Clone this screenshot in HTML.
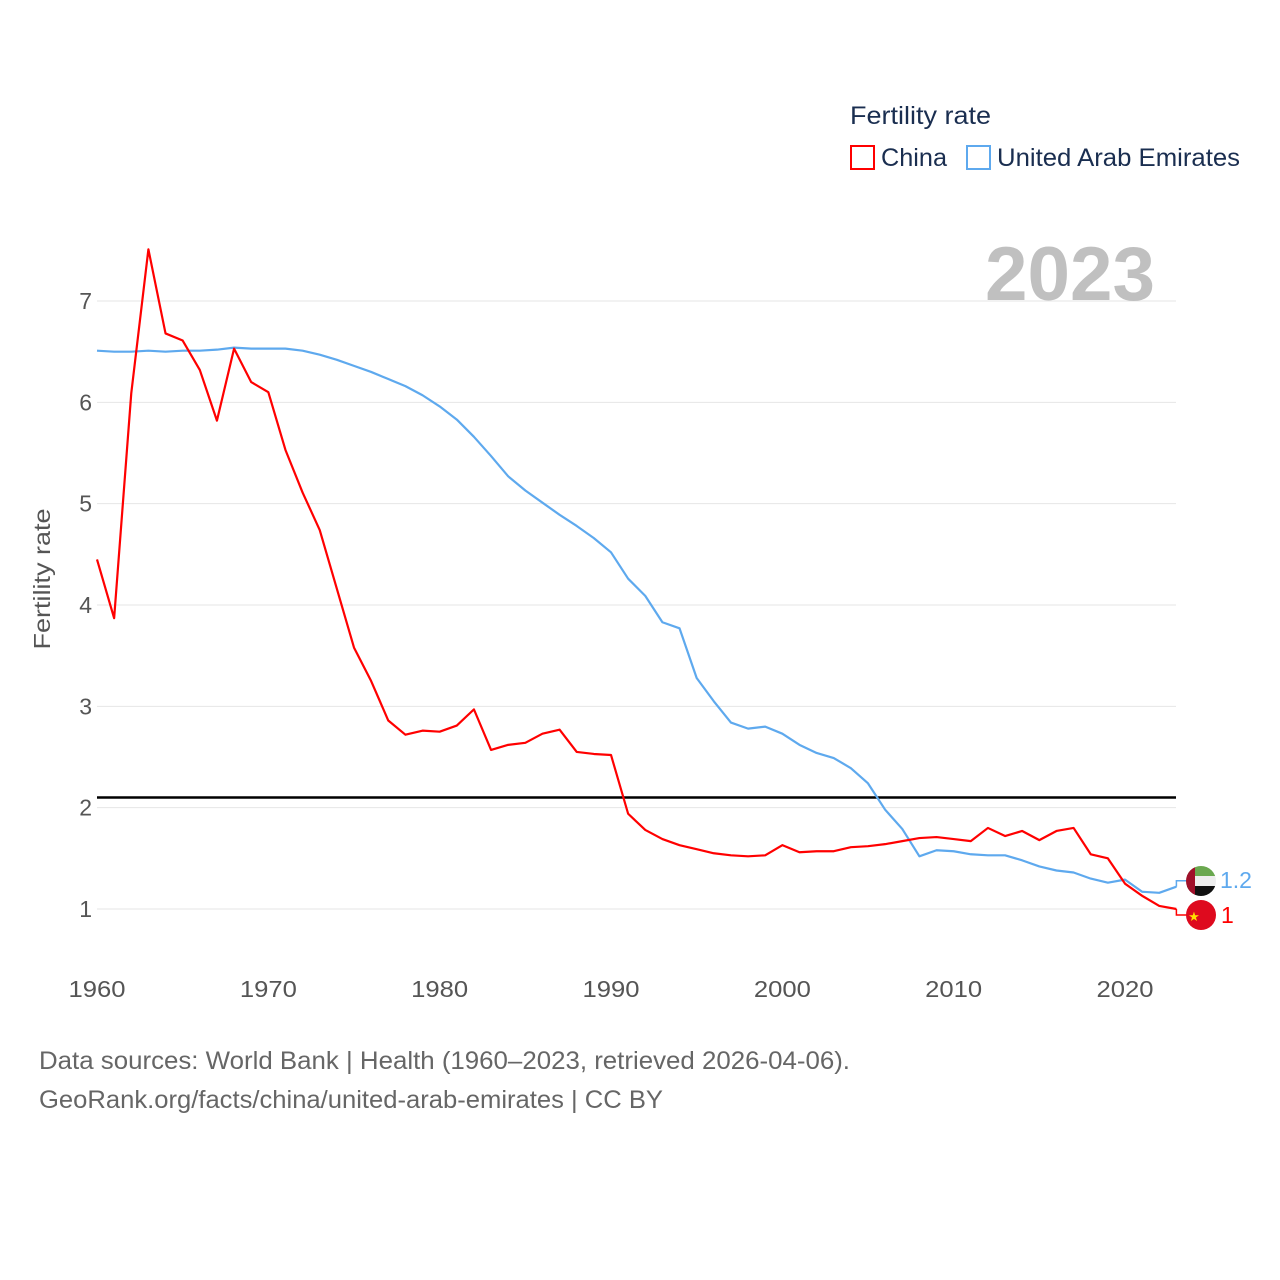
<!DOCTYPE html>
<html><head><meta charset="utf-8">
<style>
body{margin:0;background:#fff;font-family:"Liberation Sans",sans-serif;}
#wrap{position:relative;width:1280px;height:1280px;overflow:hidden;}
</style></head>
<body>
<div id="wrap">
<svg id="chart" width="1280" height="1280"></svg>
</div>
<script>
const years=[];for(let y=1960;y<=2023;y++)years.push(y);
const china=[4.45,3.87,6.09,7.51,6.68,6.61,6.32,5.82,6.53,6.20,6.10,5.53,5.11,4.74,4.16,3.58,3.25,2.86,2.72,2.76,2.75,2.81,2.97,2.57,2.62,2.64,2.73,2.77,2.55,2.53,2.52,1.94,1.78,1.69,1.63,1.59,1.55,1.53,1.52,1.53,1.63,1.56,1.57,1.57,1.61,1.62,1.64,1.67,1.70,1.71,1.69,1.67,1.80,1.72,1.77,1.68,1.77,1.80,1.54,1.50,1.25,1.13,1.03,1.00];
const uae=[6.51,6.50,6.50,6.51,6.50,6.51,6.51,6.52,6.54,6.53,6.53,6.53,6.51,6.47,6.42,6.36,6.30,6.23,6.16,6.07,5.96,5.83,5.66,5.47,5.27,5.13,5.01,4.89,4.78,4.66,4.52,4.26,4.09,3.83,3.77,3.28,3.05,2.84,2.78,2.80,2.73,2.62,2.54,2.49,2.39,2.24,1.98,1.79,1.52,1.58,1.57,1.54,1.53,1.53,1.48,1.42,1.38,1.36,1.30,1.26,1.29,1.17,1.16,1.22];
const yTicks=[1,2,3,4,5,6,7];
const xTicks=[1960,1970,1980,1990,2000,2010,2020];
const replacement=[2.1];
const X=y=>97+(y-1960)*1028/60;
const Y=v=>909-(v-1)*101.33;
const svg=document.getElementById('chart');
const NS='http://www.w3.org/2000/svg';
function el(t,a,txt){const e=document.createElementNS(NS,t);for(const k in a)e.setAttribute(k,a[k]);if(txt!==undefined)e.textContent=txt;svg.appendChild(e);return e;}
yTicks.forEach(v=>{
 const g=el('line',{x1:97,x2:1176,y1:Y(v),y2:Y(v),stroke:'#e6e6e6','stroke-width':1});
 
 
 const t=el('text',{x:92,y:Y(v)+8,'text-anchor':'end','font-size':23,fill:'#555'},v);
 
 
});
xTicks.forEach(v=>{
 const t=el('text',{x:X(v),y:997,'text-anchor':'middle','font-size':23,fill:'#555',textLength:57,lengthAdjust:'spacingAndGlyphs'},v);
 
 
});
replacement.forEach(v=>{
 const l=el('line',{x1:97,x2:1176,y1:Y(v),y2:Y(v),stroke:'#000','stroke-width':2.5});
 
 
});
const yt=el('text',{x:50,y:579,transform:'rotate(-90 50 579)','text-anchor':'middle','font-size':23,fill:'#555',textLength:141,lengthAdjust:'spacingAndGlyphs'},'Fertility rate');


const yr=el('text',{x:985,y:300,'font-size':76,'font-weight':'bold',fill:'#c0c0c0',textLength:170,lengthAdjust:'spacingAndGlyphs'},'2023');


function line(d,c,n){const p=el('polyline',{points:d.map((v,i)=>X(years[i])+','+Y(v)).join(' '),fill:'none',stroke:c,'stroke-width':2.2,'stroke-linejoin':'round'});
 
 }
line(uae,'#5ea9ee','uae-line');
line(china,'#f00','china-line');
const lu=uae[uae.length-1], lc=china[china.length-1];
const ex=X(2023);
const c1=el('polyline',{points:`${ex},${Y(lu)} ${ex},${Y(lu)-6} 1188,${Y(lu)-6}`,fill:'none',stroke:'#5ea9ee','stroke-width':1.5});


const c2=el('polyline',{points:`${ex},${Y(lc)} ${ex},${Y(lc)+6} 1188,${Y(lc)+6}`,fill:'none',stroke:'#f00','stroke-width':1.5});


</script>
<svg width="1280" height="1280" style="position:absolute;left:0;top:0">
 <defs><clipPath id="cu"><circle cx="1201" cy="881" r="15"/></clipPath></defs>
 <g clip-path="url(#cu)">
  <rect x="1186" y="866" width="30" height="10" fill="#6aa84f"/>
  <rect x="1186" y="876" width="30" height="10" fill="#eee"/>
  <rect x="1186" y="886" width="30" height="10" fill="#111"/>
  <rect x="1186" y="866" width="9" height="30" fill="#a0102a"/>
 </g>
 <text x="1220" y="888" font-size="23" fill="#5ea9ee" font-family="Liberation Sans">1.2</text>
 <circle cx="1201" cy="915" r="15" fill="#de0a1e"/>
 <text x="1194" y="921" font-size="13" fill="#ffde00" text-anchor="middle">★</text>
 <text x="1221" y="923" font-size="23" fill="#f00" font-family="Liberation Sans">1</text>
 <text x="850" y="124" font-size="25" fill="#1a2e50" font-family="Liberation Sans" textLength="141" lengthAdjust="spacingAndGlyphs">Fertility rate</text>
 <rect x="851" y="146" width="23" height="23" fill="none" stroke="#f00" stroke-width="2"/>
 <text x="881" y="166" font-size="25" fill="#1a2e50" font-family="Liberation Sans" textLength="66" lengthAdjust="spacingAndGlyphs">China</text>
 <rect x="967" y="146" width="23" height="23" fill="none" stroke="#5ea9ee" stroke-width="2"/>
 <text x="997" y="166" font-size="25" fill="#1a2e50" font-family="Liberation Sans" textLength="243" lengthAdjust="spacingAndGlyphs">United Arab Emirates</text>
 <text x="39" y="1069" font-size="25" fill="#666" font-family="Liberation Sans" textLength="811" lengthAdjust="spacingAndGlyphs">Data sources: World Bank | Health (1960–2023, retrieved 2026-04-06).</text>
 <text x="39" y="1108" font-size="25" fill="#666" font-family="Liberation Sans" textLength="624" lengthAdjust="spacingAndGlyphs">GeoRank.org/facts/china/united-arab-emirates | CC BY</text>
</svg>
</body></html>
